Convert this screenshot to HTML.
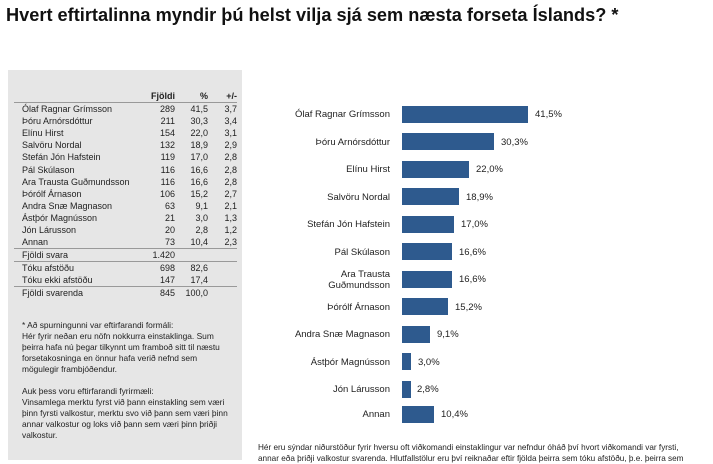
<!DOCTYPE html>
<html><head><meta charset="utf-8"><style>
body{margin:0;width:713px;height:460px;background:#fff;overflow:hidden;position:relative;font-family:"Liberation Sans",sans-serif;color:#222}
.t{position:absolute;left:6px;top:5px;font-size:18.2px;font-weight:bold;color:#111;white-space:nowrap}
.panel{position:absolute;left:8px;top:70px;width:234px;height:390px;background:#e6e6e6}
table{position:absolute;left:14px;top:89px;border-collapse:collapse;font-size:9px}
td{height:12.1px;padding:0;line-height:12px}
td.n{width:125px;padding-left:8px}
td.a{width:28px;text-align:right}
td.b{width:33px;text-align:right}
td.c{width:29px;text-align:right}
tr.h td{font-weight:bold;border-bottom:1px solid #999;height:13px}
tr.u td{border-bottom:1px solid #999}
.note{position:absolute;left:22px;top:320px;width:208px;font-size:8.4px;line-height:11px}
.lab{position:absolute;right:323px;font-size:9.5px;text-align:right;line-height:11px}
.bar{position:absolute;left:402px;height:17px;background:#2e5a8e}
.val{position:absolute;font-size:9.5px}
.foot{position:absolute;left:258px;top:442px;font-size:8.2px;white-space:nowrap;line-height:11px}
</style></head><body>
<div class="t">Hvert eftirtalinna myndir þú helst vilja sjá sem næsta forseta Íslands? *</div>
<div class="panel"></div>
<table>
<tr class="h"><td class="n"></td><td class="a">Fjöldi</td><td class="b">%</td><td class="c">+/-</td></tr>
<tr><td class="n">Ólaf Ragnar Grímsson</td><td class="a">289</td><td class="b">41,5</td><td class="c">3,7</td></tr>
<tr><td class="n">Þóru Arnórsdóttur</td><td class="a">211</td><td class="b">30,3</td><td class="c">3,4</td></tr>
<tr><td class="n">Elínu Hirst</td><td class="a">154</td><td class="b">22,0</td><td class="c">3,1</td></tr>
<tr><td class="n">Salvöru Nordal</td><td class="a">132</td><td class="b">18,9</td><td class="c">2,9</td></tr>
<tr><td class="n">Stefán Jón Hafstein</td><td class="a">119</td><td class="b">17,0</td><td class="c">2,8</td></tr>
<tr><td class="n">Pál Skúlason</td><td class="a">116</td><td class="b">16,6</td><td class="c">2,8</td></tr>
<tr><td class="n">Ara Trausta Guðmundsson</td><td class="a">116</td><td class="b">16,6</td><td class="c">2,8</td></tr>
<tr><td class="n">Þórólf Árnason</td><td class="a">106</td><td class="b">15,2</td><td class="c">2,7</td></tr>
<tr><td class="n">Andra Snæ Magnason</td><td class="a">63</td><td class="b">9,1</td><td class="c">2,1</td></tr>
<tr><td class="n">Ástþór Magnússon</td><td class="a">21</td><td class="b">3,0</td><td class="c">1,3</td></tr>
<tr><td class="n">Jón Lárusson</td><td class="a">20</td><td class="b">2,8</td><td class="c">1,2</td></tr>
<tr class="u"><td class="n">Annan</td><td class="a">73</td><td class="b">10,4</td><td class="c">2,3</td></tr>
<tr class="u"><td class="n">Fjöldi svara</td><td class="a">1.420</td><td class="b"></td><td class="c"></td></tr>
<tr><td class="n">Tóku afstöðu</td><td class="a">698</td><td class="b">82,6</td><td class="c"></td></tr>
<tr class="u"><td class="n">Tóku ekki afstöðu</td><td class="a">147</td><td class="b">17,4</td><td class="c"></td></tr>
<tr><td class="n">Fjöldi svarenda</td><td class="a">845</td><td class="b">100,0</td><td class="c"></td></tr>
</table>
<div class="note">* Að spurningunni var eftirfarandi formáli:<br>Hér fyrir neðan eru nöfn nokkurra einstaklinga. Sum þeirra hafa nú þegar tilkynnt um framboð sitt til næstu forsetakosninga en önnur hafa verið nefnd sem mögulegir frambjóðendur.<br><br>Auk þess voru eftirfarandi fyrirmæli:<br>Vinsamlega merktu fyrst við þann einstakling sem væri þinn fyrsti valkostur, merktu svo við þann sem væri þinn annar valkostur og loks við þann sem væri þinn þriðji valkostur.</div>

<div class="lab" style="top:109px">Ólaf Ragnar Grímsson</div><div class="bar" style="top:106px;width:126px"></div><div class="val" style="top:109px;left:535px">41,5%</div>
<div class="lab" style="top:137px">Þóru Arnórsdóttur</div><div class="bar" style="top:133px;width:92px"></div><div class="val" style="top:137px;left:501px">30,3%</div>
<div class="lab" style="top:164px">Elínu Hirst</div><div class="bar" style="top:161px;width:67px"></div><div class="val" style="top:164px;left:476px">22,0%</div>
<div class="lab" style="top:192px">Salvöru Nordal</div><div class="bar" style="top:188px;width:57px"></div><div class="val" style="top:192px;left:466px">18,9%</div>
<div class="lab" style="top:219px">Stefán Jón Hafstein</div><div class="bar" style="top:216px;width:52px"></div><div class="val" style="top:219px;left:461px">17,0%</div>
<div class="lab" style="top:247px">Pál Skúlason</div><div class="bar" style="top:243px;width:50px"></div><div class="val" style="top:247px;left:459px">16,6%</div>
<div class="lab" style="top:269px">Ara Trausta<br>Guðmundsson</div><div class="bar" style="top:271px;width:50px"></div><div class="val" style="top:274px;left:459px">16,6%</div>
<div class="lab" style="top:302px">Þórólf Árnason</div><div class="bar" style="top:298px;width:46px"></div><div class="val" style="top:302px;left:455px">15,2%</div>
<div class="lab" style="top:329px">Andra Snæ Magnason</div><div class="bar" style="top:326px;width:28px"></div><div class="val" style="top:329px;left:437px">9,1%</div>
<div class="lab" style="top:357px">Ástþór Magnússon</div><div class="bar" style="top:353px;width:9px"></div><div class="val" style="top:357px;left:418px">3,0%</div>
<div class="lab" style="top:384px">Jón Lárusson</div><div class="bar" style="top:381px;width:9px"></div><div class="val" style="top:384px;left:417px">2,8%</div>
<div class="lab" style="top:409px">Annan</div><div class="bar" style="top:406px;width:32px"></div><div class="val" style="top:409px;left:441px">10,4%</div>

<div class="foot">Hér eru sýndar niðurstöður fyrir hversu oft viðkomandi einstaklingur var nefndur óháð því hvort viðkomandi var fyrsti,<br>annar eða þriðji valkostur svarenda. Hlutfallstölur eru því reiknaðar eftir fjölda þeirra sem tóku afstöðu, þ.e. þeirra sem</div>
</body></html>
